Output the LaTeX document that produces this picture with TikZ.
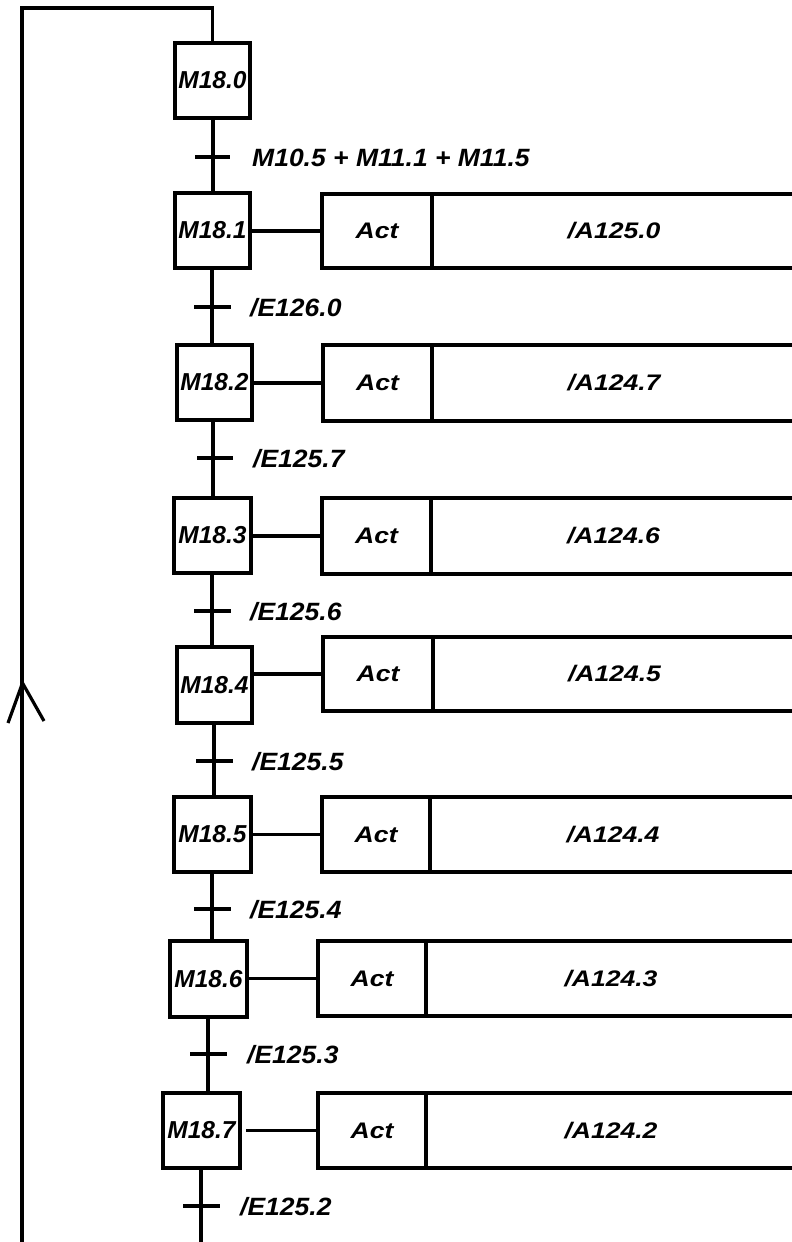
\documentclass[tikz,border=0pt]{standalone}
\usepackage{fontspec}
\setmainfont{Liberation Sans}
\newcommand\steptxt[1]{\fontsize{24.5}{29}\selectfont\bfseries\itshape #1}
\newcommand\trtxt[1]{\scalebox{1.06}[1]{\fontsize{25}{30}\selectfont\bfseries\itshape #1}}
\newcommand\acttxt[1]{\scalebox{1.18}[1]{\fontsize{22.5}{27}\selectfont\bfseries\itshape #1}}
\tikzset{
  ln/.style={line width=3.2pt, line join=miter, line cap=butt},
  stepbox/.style={draw, ln, inner sep=0pt, outer sep=0pt, minimum width=75pt, minimum height=75pt},
  actbox/.style={draw, ln, inner sep=0pt, outer sep=0pt, minimum height=74pt},
  trlabel/.style={anchor=base west, inner sep=0pt},
}
\begin{document}
\begin{tikzpicture}[x=1pt,y=-1pt]
\useasboundingbox (0,0) rectangle (792,1242);
\clip (0,0) rectangle (792,1242);
\fill[white] (0,0) rectangle (792,1242);

% steps
\node[stepbox] (s0) at (212.5,80.5) {\steptxt{M18.0}};
\node[stepbox] (s1) at (212.5,230.5) {\steptxt{M18.1}};
\node[stepbox] (s2) at (214.5,382.5) {\steptxt{M18.2}};
\node[stepbox, minimum width=77pt] (s3) at (212.5,535.5) {\steptxt{M18.3}};
\node[stepbox, minimum height=76pt] (s4) at (214.5,685) {\steptxt{M18.4}};
\node[stepbox, minimum width=77pt] (s5) at (212.5,834.5) {\steptxt{M18.5}};
\node[stepbox, minimum width=77pt, minimum height=76pt] (s6) at (208.5,979) {\steptxt{M18.6}};
\node[stepbox, minimum width=77pt] (s7) at (201.5,1130.5) {\steptxt{M18.7}};

% transition points
\coordinate (t0) at (213,157);
\coordinate (t1) at (212,307);
\coordinate (t2) at (213,458);
\coordinate (t3) at (212,611);
\coordinate (t4) at (214,761);
\coordinate (t5) at (212,909);
\coordinate (t6) at (208,1054);
\coordinate (t7) at (201,1206);
\coordinate (bot) at (201,1250);

% links between steps
\draw[ln] (s0.south -| t0) -- (t0 |- s1.north);
\draw[ln] (s1.south -| t1) -- (t1 |- s2.north);
\draw[ln] (s2.south -| t2) -- (t2 |- s3.north);
\draw[ln] (s3.south -| t3) -- (t3 |- s4.north);
\draw[ln] (s4.south -| t4) -- (t4 |- s5.north);
\draw[ln] (s5.south -| t5) -- (t5 |- s6.north);
\draw[ln] (s6.south -| t6) -- (t6 |- s7.north);
\draw[ln] (s7.south -| t7) -- (bot);

% ticks
\draw[ln] ([xshift=-18pt]t0) -- ([xshift=17pt]t0);
\draw[ln] ([xshift=-18pt]t1) -- ([xshift=19pt]t1);
\draw[ln] ([xshift=-16pt]t2) -- ([xshift=20pt]t2);
\draw[ln] ([xshift=-18pt]t3) -- ([xshift=19pt]t3);
\draw[ln] ([xshift=-18pt]t4) -- ([xshift=19pt]t4);
\draw[ln] ([xshift=-18pt]t5) -- ([xshift=19pt]t5);
\draw[ln] ([xshift=-18pt]t6) -- ([xshift=19pt]t6);
\draw[ln] ([xshift=-18pt]t7) -- ([xshift=19pt]t7);

% transition labels
\node[trlabel] (l0) at (252,166) {\trtxt{M10.5 + M11.1 + M11.5}};
\node[trlabel] (l1) at (250,316) {\trtxt{/E126.0}};
\node[trlabel] (l2) at (253,467) {\trtxt{/E125.7}};
\node[trlabel] (l3) at (250,620) {\trtxt{/E125.6}};
\node[trlabel] (l4) at (252,770) {\trtxt{/E125.5}};
\node[trlabel] (l5) at (250,918) {\trtxt{/E125.4}};
\node[trlabel] (l6) at (247,1063) {\trtxt{/E125.3}};
\node[trlabel] (l7) at (240,1215) {\trtxt{/E125.2}};

% return loop
\coordinate (tl) at (22,8);
\coordinate (bl) at (22,1250);
\draw[ln] (s0.north) -- (s0.north |- tl) -- (tl) -- (bl);
\coordinate (arL) at (8,723);
\coordinate (arT) at (22.5,683);
\coordinate (arR) at (44,721);
\draw[ln] (arL) -- (arT) -- (arR);

% actions
\node[actbox, minimum width=110pt] (a1) at (377,231) {\acttxt{Act}};
\node[actbox, minimum width=364pt] (o1) at (614,231) {\acttxt{/A125.0}};
\node[actbox, minimum width=109pt, minimum height=76pt] (a2) at (377.5,383) {\acttxt{Act}};
\node[actbox, minimum width=364pt, minimum height=76pt] (o2) at (614,383) {\acttxt{/A124.7}};
\node[actbox, minimum width=109pt, minimum height=76pt] (a3) at (376.5,536) {\acttxt{Act}};
\node[actbox, minimum width=365pt, minimum height=76pt] (o3) at (613.5,536) {\acttxt{/A124.6}};
\node[actbox, minimum width=110pt] (a4) at (378,674) {\acttxt{Act}};
\node[actbox, minimum width=363pt] (o4) at (614.5,674) {\acttxt{/A124.5}};
\node[actbox, minimum width=108pt, minimum height=75pt] (a5) at (376,834.5) {\acttxt{Act}};
\node[actbox, minimum width=366pt, minimum height=75pt] (o5) at (613,834.5) {\acttxt{/A124.4}};
\node[actbox, minimum width=108pt, minimum height=75pt] (a6) at (372,978.5) {\acttxt{Act}};
\node[actbox, minimum width=370pt, minimum height=75pt] (o6) at (611,978.5) {\acttxt{/A124.3}};
\node[actbox, minimum width=108pt, minimum height=75pt] (a7) at (372,1130.5) {\acttxt{Act}};
\node[actbox, minimum width=370pt, minimum height=75pt] (o7) at (611,1130.5) {\acttxt{/A124.2}};

% action links
\draw[ln] (s1.east |- a1.west) -- (a1.west);
\draw[ln] (s2.east |- a2.west) -- (a2.west);
\draw[ln] (s3.east |- a3.west) -- (a3.west);
\draw[ln] (s4.east |- a4.west) -- (a4.west);
\draw[ln] (s5.east |- a5.west) -- (a5.west);
\draw[ln] (s6.east |- a6.west) -- (a6.west);
\draw[ln] ([xshift=6pt]s7.east |- a7.west) -- (a7.west);
\end{tikzpicture}
\end{document}
